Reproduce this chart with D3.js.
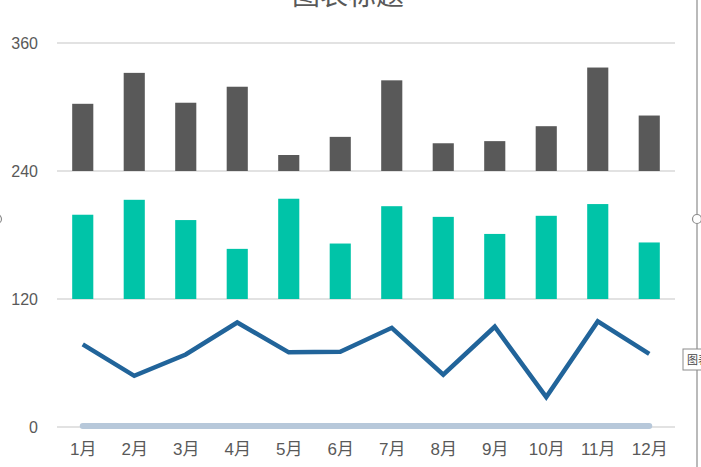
<!DOCTYPE html>
<html><head><meta charset="utf-8">
<script src="https://cdn.jsdelivr.net/npm/d3@7"></script>
<style>
html,body{margin:0;padding:0;background:#fff;overflow:hidden;}
svg{display:block;}
text{font-family:"Liberation Sans","Noto Sans CJK SC",Arial,sans-serif;fill:#595959;}
</style></head>
<body>
<script>
const months = ["1月","2月","3月","4月","5月","6月","7月","8月","9月","10月","11月","12月"];
const topBars = [303, 332, 304, 319, 255, 272, 325, 266, 268, 282, 337, 292];
const midBars = [199, 213, 194, 167, 214, 172, 207, 197, 181, 198, 209, 173];
const lineVals = [77.5, 48, 68, 98, 70, 70.5, 93, 49, 94, 28, 99, 68.5];
const baseVals = [1, 1, 1, 1, 1, 1, 1, 1, 1, 1, 1, 1];
const yTicks = [0, 120, 240, 360];
const topBase = 240, midBase = 120;
const title = "图表标题";

const W = 701, H = 467;
const svg = d3.select("body").append("svg").attr("width", W).attr("height", H);

const x = d3.scalePoint().domain(months).range([57, 675]).padding(0.5);
const y = d3.scaleLinear().domain([0, 360]).range([427, 43]);
const bw = x.step() * 0.41;

// title (cut off at top)
svg.append("text").attr("x", 348).attr("y", 5).attr("text-anchor", "middle")
  .style("font-size", "28px").style("font-family", "'Noto Sans CJK SC',sans-serif").text(title);

// gridlines
svg.append("g").selectAll("line").data(yTicks).join("line")
  .attr("x1", 57).attr("x2", 675).attr("y1", d => y(d)).attr("y2", d => y(d))
  .attr("stroke", "#d9d9d9").attr("stroke-width", 1.5);

// y axis labels
const yAxis = d3.axisLeft(y).tickValues(yTicks).tickSize(0).tickPadding(0);
const ga = svg.append("g").attr("transform", "translate(38,0)").call(yAxis);
ga.select(".domain").remove();
ga.selectAll("text").style("font-size", "16px").style("fill", "#595959")
  .style("font-family", "'Liberation Sans',Arial,sans-serif");

// x axis labels
const xAxis = d3.axisBottom(x).tickSize(0).tickPadding(0);
const gx = svg.append("g").attr("transform", "translate(0,443)").call(xAxis);
gx.select(".domain").remove();
gx.selectAll("text").style("font-size", "17px").style("fill", "#595959")
  .style("font-family", "'Liberation Sans','Noto Sans CJK SC',sans-serif");

// top bars
svg.append("g").selectAll("rect").data(topBars).join("rect")
  .attr("x", (d, i) => x(months[i]) - bw / 2).attr("width", bw)
  .attr("y", d => y(d)).attr("height", d => y(topBase) - y(d))
  .attr("fill", "#595959");
// middle bars
svg.append("g").selectAll("rect").data(midBars).join("rect")
  .attr("x", (d, i) => x(months[i]) - bw / 2).attr("width", bw)
  .attr("y", d => y(d)).attr("height", d => y(midBase) - y(d))
  .attr("fill", "#00c4a8");

// base band
const line = d3.line().x((d, i) => x(months[i])).y(d => y(d));
svg.append("path").datum(baseVals).attr("d", line)
  .attr("fill", "none").attr("stroke", "#b7c8da").attr("stroke-width", 6).attr("stroke-linecap", "round");

// line series
svg.append("path").datum(lineVals).attr("d", line)
  .attr("fill", "none").attr("stroke", "#21649a").attr("stroke-width", 4.5)
  .attr("stroke-linejoin", "miter").attr("stroke-linecap", "butt");

// selection frame decoration
svg.append("line").attr("x1", 697).attr("x2", 697).attr("y1", 0).attr("y2", H)
  .attr("stroke", "#8c8c8c").attr("stroke-width", 1.2);
svg.append("circle").attr("cx", 697).attr("cy", 219).attr("r", 4.5)
  .attr("fill", "#fff").attr("stroke", "#8c8c8c").attr("stroke-width", 1.2);
svg.append("circle").attr("cx", -3).attr("cy", 219).attr("r", 4.5)
  .attr("fill", "#fff").attr("stroke", "#8c8c8c").attr("stroke-width", 1.2);
svg.append("rect").attr("x", 683).attr("y", 349).attr("width", 30).attr("height", 21)
  .attr("fill", "#fff").attr("stroke", "#8c8c8c").attr("stroke-width", 1);
svg.append("text").attr("x", 687).attr("y", 364).style("font-size", "11px")
  .style("font-family", "'Noto Sans CJK SC',sans-serif").style("fill", "#444").text("图表");
</script>
</body></html>
